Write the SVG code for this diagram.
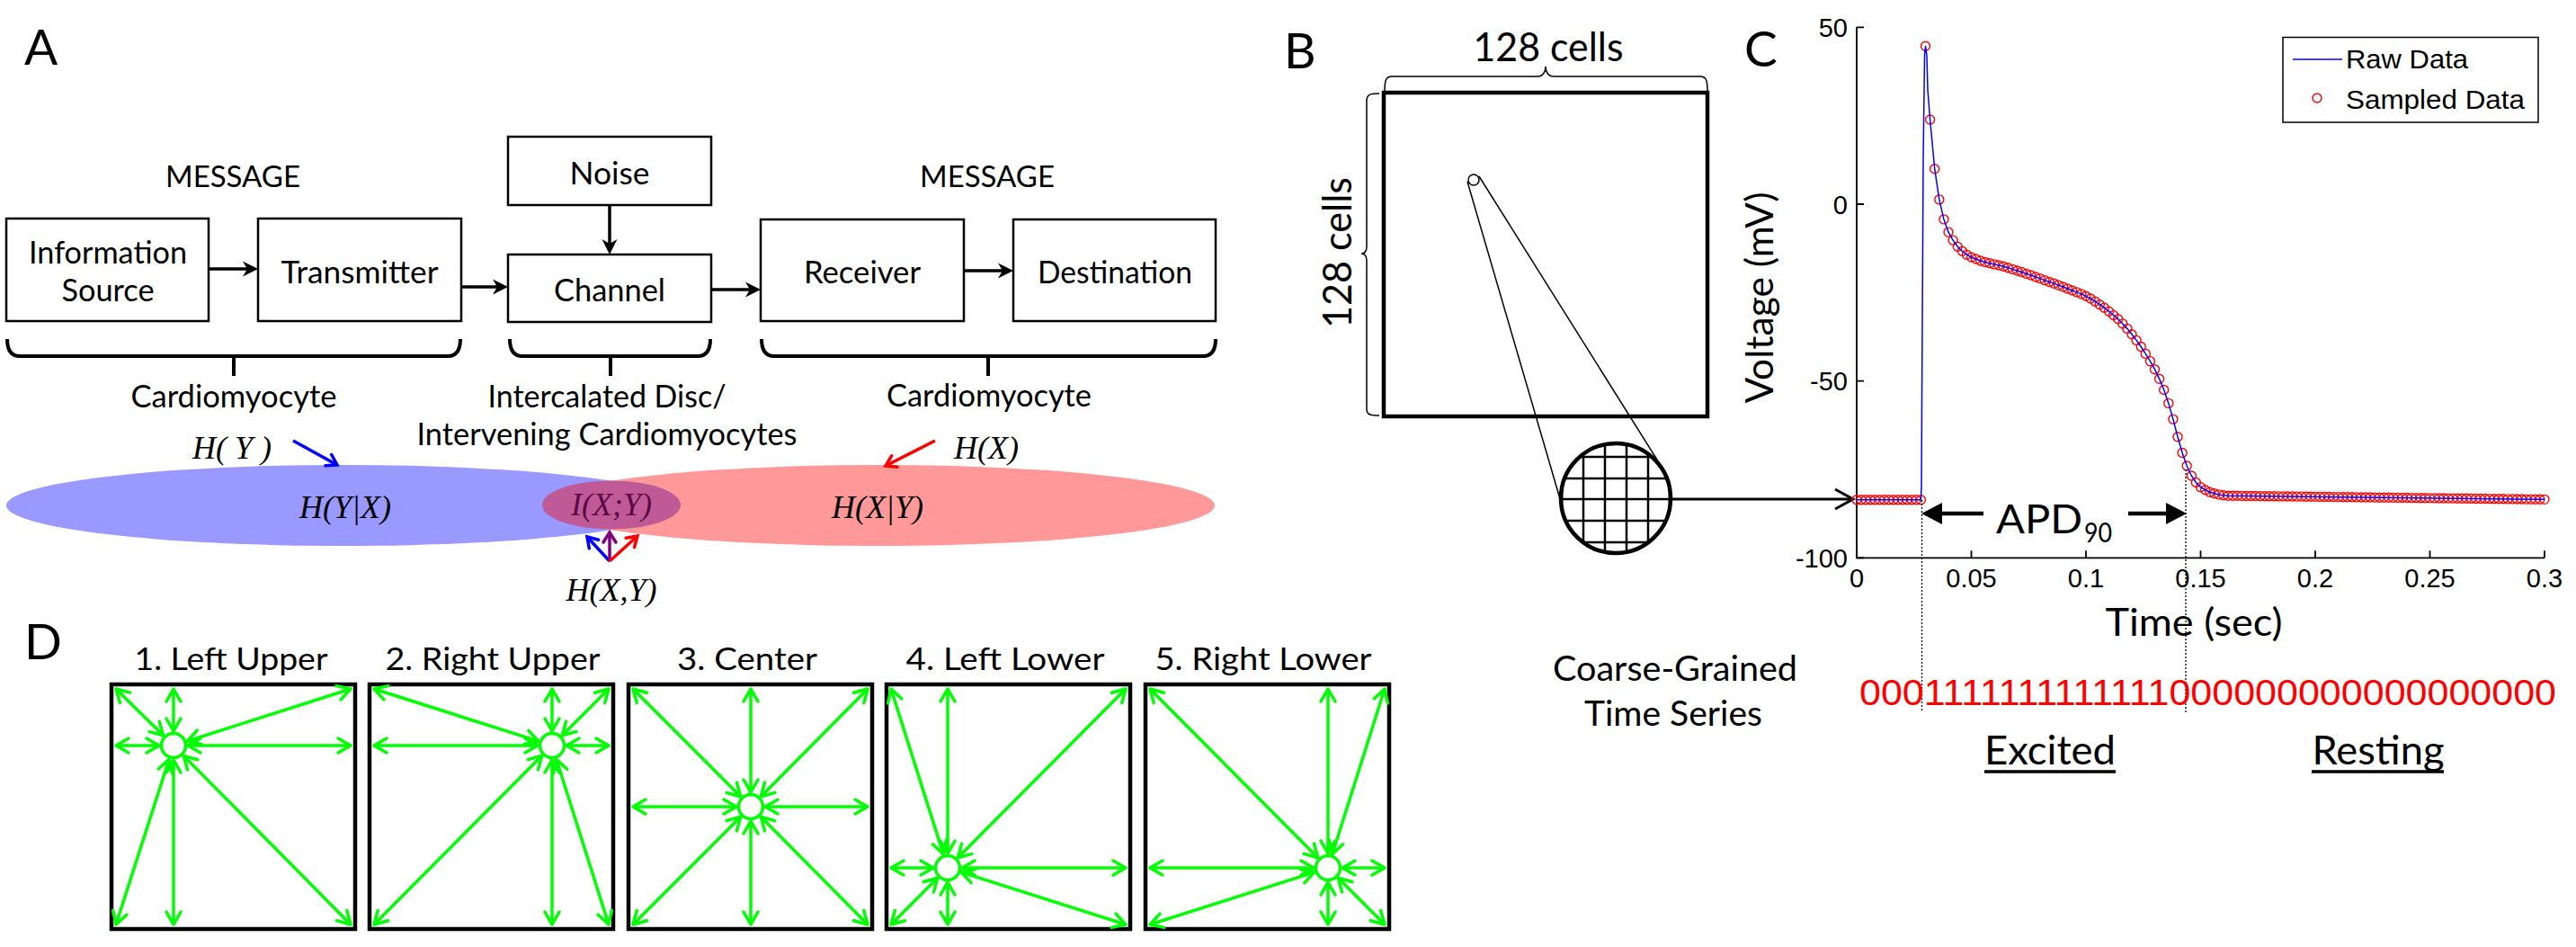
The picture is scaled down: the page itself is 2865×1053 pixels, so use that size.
<svg xmlns="http://www.w3.org/2000/svg" width="2865" height="1053" viewBox="0 0 2865 1053">
<style>
.gs{font-family:Lato,"Liberation Sans",sans-serif;fill:#000}
.ar{font-family:"Liberation Sans",Arial,sans-serif;fill:#000}
.mt{font-family:"Liberation Serif","Times New Roman",serif;font-style:italic;font-size:36px;fill:#000}
.box{fill:#fff;stroke:#000;stroke-width:2.5}
.conn{stroke:#000;stroke-width:3.5;fill:none;marker-end:url(#ah)}
.brace{fill:none;stroke:#000;stroke-width:4}
.ga{stroke:#00ff00;stroke-width:3.5;fill:none;marker-start:url(#gv);marker-end:url(#gv)}
.gn{fill:#fff;stroke:#00ff00;stroke-width:3.5}
.dbox{fill:none;stroke:#000;stroke-width:4.5}
.lbl{font-size:55px}
.a35{font-size:35px}
.tick{stroke:#000;stroke-width:1.8;fill:none}
.tl{font-size:29px}
.dot{stroke:#000;stroke-width:1.3;stroke-dasharray:2,2;fill:none}
</style>
<defs>
<marker id="ah" markerUnits="userSpaceOnUse" markerWidth="40" markerHeight="40" refX="0" refY="0" orient="auto" overflow="visible"><path d="M4,0 L-13,-8.5 L-8,0 L-13,8.5 z" fill="#000"/></marker>
<marker id="gv" markerUnits="userSpaceOnUse" markerWidth="40" markerHeight="40" refX="0" refY="0" orient="auto-start-reverse" overflow="visible"><path d="M-14,-8 L0,0 L-14,8" fill="none" stroke="#00ff00" stroke-width="3.5" stroke-linecap="round" stroke-linejoin="round"/></marker>
<marker id="bv" markerUnits="userSpaceOnUse" markerWidth="40" markerHeight="40" refX="0" refY="0" orient="auto" overflow="visible"><path d="M-11,-7 L0,0 L-11,7" fill="none" stroke="#0000ff" stroke-width="3.5" stroke-linecap="round"/></marker>
<marker id="rv" markerUnits="userSpaceOnUse" markerWidth="40" markerHeight="40" refX="0" refY="0" orient="auto" overflow="visible"><path d="M-11,-7 L0,0 L-11,7" fill="none" stroke="#ff0000" stroke-width="3.5" stroke-linecap="round"/></marker>
<marker id="pv" markerUnits="userSpaceOnUse" markerWidth="40" markerHeight="40" refX="0" refY="0" orient="auto" overflow="visible"><path d="M-11,-7 L0,0 L-11,7" fill="none" stroke="#800080" stroke-width="3.5" stroke-linecap="round"/></marker>
<marker id="kv" markerUnits="userSpaceOnUse" markerWidth="40" markerHeight="40" refX="0" refY="0" orient="auto" overflow="visible"><path d="M-20,-11 L0,0 L-20,11" fill="none" stroke="#000" stroke-width="3"/></marker>
<marker id="tri" markerUnits="userSpaceOnUse" markerWidth="40" markerHeight="40" refX="0" refY="0" orient="auto" overflow="visible"><path d="M5,0 L-18,-12 L-18,12 z" fill="#000"/></marker>
<marker id="o" markerUnits="userSpaceOnUse" markerWidth="20" markerHeight="20" refX="0" refY="0" overflow="visible"><circle cx="0" cy="0" r="5" fill="none" stroke="#ff0000" stroke-width="1.4"/></marker>
<clipPath id="mag"><circle cx="1797" cy="554" r="61"/></clipPath>
</defs>
<rect width="2865" height="1053" fill="#fff"/>

<!-- Panel A -->
<g id="panelA">
<text class="gs lbl" x="27" y="72">A</text>
<text class="gs" font-size="33" x="259" y="208" text-anchor="middle" textLength="150" lengthAdjust="spacingAndGlyphs">MESSAGE</text>
<text class="gs" font-size="33" x="1098" y="208" text-anchor="middle" textLength="150" lengthAdjust="spacingAndGlyphs">MESSAGE</text>
<g id="node-source"><rect class="box" x="7" y="243" width="225" height="114"/>
<text class="gs a35" x="120" y="293" text-anchor="middle" textLength="176" lengthAdjust="spacingAndGlyphs">Information</text>
<text class="gs a35" x="120" y="335" text-anchor="middle" textLength="103" lengthAdjust="spacingAndGlyphs">Source</text></g>
<g id="node-transmitter"><rect class="box" x="287" y="243" width="226" height="114"/>
<text class="gs a35" x="400" y="315" text-anchor="middle" textLength="175" lengthAdjust="spacingAndGlyphs">Transmitter</text></g>
<g id="node-noise"><rect class="box" x="565" y="152" width="226" height="76"/>
<text class="gs a35" x="678" y="205" text-anchor="middle" textLength="89" lengthAdjust="spacingAndGlyphs">Noise</text></g>
<g id="node-channel"><rect class="box" x="565" y="283" width="226" height="75"/>
<text class="gs a35" x="678" y="335" text-anchor="middle" textLength="124" lengthAdjust="spacingAndGlyphs">Channel</text></g>
<g id="node-receiver"><rect class="box" x="846" y="244" width="226" height="113"/>
<text class="gs a35" x="959" y="315" text-anchor="middle" textLength="130" lengthAdjust="spacingAndGlyphs">Receiver</text></g>
<g id="node-destination"><rect class="box" x="1127" y="244" width="225" height="113"/>
<text class="gs a35" x="1240" y="315" text-anchor="middle" textLength="172" lengthAdjust="spacingAndGlyphs">Destination</text></g>

<path class="brace" d="M8,377 Q8,396 22,396 H498 Q512,396 512,377 M260,396 V418"/>
<path class="brace" d="M567,377 Q567,396 581,396 H776 Q790,396 790,377 M679,396 V418"/>
<path class="brace" d="M847,377 Q847,396 861,396 H1338 Q1352,396 1352,377 M1099,396 V418"/>
<text class="gs a35" x="260" y="453" text-anchor="middle" textLength="229" lengthAdjust="spacingAndGlyphs">Cardiomyocyte</text>
<text class="gs a35" x="675" y="453" text-anchor="middle" textLength="265" lengthAdjust="spacingAndGlyphs">Intercalated Disc/</text>
<text class="gs a35" x="675" y="495" text-anchor="middle" textLength="423" lengthAdjust="spacingAndGlyphs">Intervening Cardiomyocytes</text>
<text class="gs a35" x="1100" y="452" text-anchor="middle" textLength="228" lengthAdjust="spacingAndGlyphs">Cardiomyocyte</text>

<g id="venn">
<ellipse cx="382" cy="562" rx="375" ry="45" fill="#9999ff"/>
<ellipse cx="977" cy="562" rx="374" ry="45" fill="#ff9999"/>
<ellipse cx="680" cy="561.5" rx="77" ry="27" fill="#bf5a97"/>
<text class="mt" x="384" y="576" text-anchor="middle">H(Y|X)</text>
<text class="mt" x="680" y="573" text-anchor="middle" fill="#5a0a44" style="fill:#5a0a44">I(X;Y)</text>
<text class="mt" x="976" y="576" text-anchor="middle">H(X|Y)</text>
<text class="mt" x="214" y="510">H( Y )</text>
<text class="mt" x="1061" y="510">H(X)</text>
<text class="mt" x="680" y="668" text-anchor="middle">H(X,Y)</text>
</g>
</g>

<g id="connectors">
<line class="conn" x1="232" y1="299" x2="283" y2="299"/>
<line class="conn" x1="513" y1="319" x2="561" y2="319"/>
<line class="conn" x1="678" y1="228" x2="678" y2="279"/>
<line class="conn" x1="791" y1="322" x2="842" y2="322"/>
<line class="conn" x1="1072" y1="301" x2="1123" y2="301"/>
<line x1="326" y1="490" x2="375" y2="517" stroke="#0000ff" stroke-width="3.5" marker-end="url(#bv)"/>
<line x1="1040" y1="490" x2="985" y2="518" stroke="#ff0000" stroke-width="3.5" marker-end="url(#rv)"/>
<line x1="678" y1="624" x2="653" y2="597" stroke="#0000ff" stroke-width="3.5" marker-end="url(#bv)"/>
<line x1="678" y1="624" x2="678" y2="592" stroke="#800080" stroke-width="3.5" marker-end="url(#pv)"/>
<line x1="678" y1="624" x2="709" y2="596" stroke="#ff0000" stroke-width="3.5" marker-end="url(#rv)"/>
<line x1="1797" y1="555" x2="2061" y2="555" stroke="#000" stroke-width="3" marker-end="url(#kv)"/>
</g>

<!-- Panel B -->
<g id="panelB">
<text class="gs lbl" x="1428" y="76">B</text>
<text class="gs" font-size="44" x="1722" y="68" text-anchor="middle" textLength="167" lengthAdjust="spacingAndGlyphs">128 cells</text>
<text class="gs" font-size="44" transform="translate(1503,281) rotate(-90)" text-anchor="middle" textLength="168" lengthAdjust="spacingAndGlyphs">128 cells</text>
<path d="M1540,102 C1540,90 1541,85 1548,85 H1710 C1716,85 1719,80 1719,74 C1719,80 1722,85 1728,85 H1891 C1898,85 1899,90 1899,102" fill="none" stroke="#000" stroke-width="1.5"/>
<path d="M1534,104 C1524,104 1520,105 1520,112 V274 C1520,279 1518,282 1514,282 C1518,282 1520,285 1520,290 V455 C1520,461 1524,462 1534,462" fill="none" stroke="#000" stroke-width="1.5"/>
<g id="node-grid"><rect x="1539" y="103" width="360" height="360" fill="none" stroke="#000" stroke-width="4.5"/></g>
<line x1="1632" y1="202" x2="1736" y2="558" stroke="#000" stroke-width="1.5"/>
<line x1="1645" y1="196" x2="1846" y2="516" stroke="#000" stroke-width="1.5"/>
<circle cx="1639" cy="200" r="6" fill="#fff" stroke="#000" stroke-width="1.5"/>
<g id="node-magnifier">
<circle cx="1797" cy="554" r="61" fill="#fff"/>
<g clip-path="url(#mag)" stroke="#000" stroke-width="2.5">
<path d="M1737,480 V630 M1761,480 V630 M1785,480 V630 M1809,480 V630 M1833,480 V630 M1857,480 V630 M1730,485 H1870 M1730,508 H1870 M1730,532 H1870 M1730,555 H1870 M1730,579 H1870 M1730,603 H1870"/>
</g>
<circle cx="1797" cy="554" r="61" fill="none" stroke="#000" stroke-width="4.5"/>
</g>
</g>

<!-- Panel C -->
<g id="panelC">
<text class="gs lbl" x="1940" y="74">C</text>
<path class="tick" d="M2065,30 V620.3 H2830"/>
<path class="tick" d="M2065,30.3 h8 M2065,227 h8 M2065,423.7 h8 M2065,620.3 h8 M2065,620.3 v-8 M2192.5,620.3 v-8 M2320,620.3 v-8 M2447.5,620.3 v-8 M2575,620.3 v-8 M2702.5,620.3 v-8 M2830,620.3 v-8"/>
<g class="ar tl" text-anchor="end">
<text x="2055" y="41">50</text>
<text x="2055" y="238">0</text>
<text x="2055" y="434">-50</text>
<text x="2055" y="631">-100</text>
</g>
<g class="ar tl" text-anchor="middle">
<text x="2065" y="653">0</text>
<text x="2192.5" y="653">0.05</text>
<text x="2320" y="653">0.1</text>
<text x="2447.5" y="653">0.15</text>
<text x="2575" y="653">0.2</text>
<text x="2702.5" y="653">0.25</text>
<text x="2830" y="653">0.3</text>
</g>
<text class="gs" font-size="42" transform="translate(1972,331) rotate(-90)" text-anchor="middle" textLength="235" lengthAdjust="spacingAndGlyphs">Voltage (mV)</text>
<text class="gs" font-size="42" x="2440" y="707" text-anchor="middle" textLength="197" lengthAdjust="spacingAndGlyphs">Time (sec)</text>

<path fill="none" stroke="none" marker-start="url(#o)" marker-mid="url(#o)" marker-end="url(#o)" d="M2065,555.8 l5.1,0 l5.1,0 l5.1,0 l5.1,0 l5.1,0 l5.1,0 l5.1,0 l5.1,0 l5.1,0 l5.1,0 l5.1,0 l5.1,0 l5.1,0 l5.1,0 l5.1,-504.6 l5.1,81.8 l5.1,54.7 l5.1,34.2 l5.1,22 l5.1,14.2 l5.1,9 l5.1,7.1 l5.1,5.1 l5.1,3.9 l5.1,2.8 l5.1,2 l5.1,2 l5.1,1.5 l5.1,1.2 l5.1,1.2 l5.1,1.1 l5.1,1.2 l5.1,1.6 l5.1,1.6 l5.1,1.6 l5.1,1.5 l5.1,2 l5.1,1.5 l5.1,2 l5.1,1.6 l5.1,2 l5.1,1.9 l5.1,1.6 l5.1,2 l5.1,1.9 l5.1,2 l5.1,2 l5.1,1.9 l5.1,2 l5.1,2.4 l5.1,2.7 l5.1,3.2 l5.1,3.5 l5.1,3.5 l5.1,4 l5.1,4.3 l5.1,4.3 l5.1,5.1 l5.1,5.5 l5.1,6.3 l5.1,6.7 l5.1,7.1 l5.1,7.9 l5.1,8.2 l5.1,9.1 l5.1,10.6 l5.1,12.2 l5.1,14.9 l5.1,17.7 l5.1,19.7 l5.1,17.7 l5.1,14.5 l5.1,11 l5.1,7.5 l5.1,5.1 l5.1,3.2 l5.1,2.4 l5.1,1.5 l5.1,1.2 l5.1,.8 l5.1,.5 l5.1,.06 l5.1,.06 l5.1,.06 l5.1,.06 l5.1,.06 l5.1,.06 l5.1,.06 l5.1,.06 l5.1,.06 l5.1,.06 l5.1,.06 l5.1,.06 l5.1,.06 l5.1,.06 l5.1,.06 l5.1,.06 l5.1,.06 l5.1,.06 l5.1,.06 l5.1,.06 l5.1,.06 l5.1,.06 l5.1,.06 l5.1,.06 l5.1,.06 l5.1,.06 l5.1,.06 l5.1,.06 l5.1,.06 l5.1,.06 l5.1,.06 l5.1,.06 l5.1,.06 l5.1,.06 l5.1,.06 l5.1,.06 l5.1,.06 l5.1,.06 l5.1,.06 l5.1,.06 l5.1,.06 l5.1,.06 l5.1,.06 l5.1,.06 l5.1,.06 l5.1,.06 l5.1,.06 l5.1,.06 l5.1,.06 l5.1,.06 l5.1,.06 l5.1,.06 l5.1,.06 l5.1,.06 l5.1,.06 l5.1,.06 l5.1,.06 l5.1,.06 l5.1,.06 l5.1,.06 l5.1,.06 l5.1,.06 l5.1,.06 l5.1,.06 l5.1,.06 l5.1,.06 l5.1,.06 l5.1,.06 l5.1,.06"/>
<path fill="none" stroke="#0000ff" stroke-width="1.5" d="M2065,555.8 H2136.4 L2137,540 L2137.6,428 L2139,176 L2140.5,62 L2141.5,51.2 L2143,62 L2144,100 L2146.6,133 l5.1,54.7 l5.1,34.2 l5.1,22 l5.1,14.2 l5.1,9 l5.1,7.1 l5.1,5.1 l5.1,3.9 l5.1,2.8 l5.1,2 l5.1,2 l5.1,1.5 l5.1,1.2 l5.1,1.2 l5.1,1.1 l5.1,1.2 l5.1,1.6 l5.1,1.6 l5.1,1.6 l5.1,1.5 l5.1,2 l5.1,1.5 l5.1,2 l5.1,1.6 l5.1,2 l5.1,1.9 l5.1,1.6 l5.1,2 l5.1,1.9 l5.1,2 l5.1,2 l5.1,1.9 l5.1,2 l5.1,2.4 l5.1,2.7 l5.1,3.2 l5.1,3.5 l5.1,3.5 l5.1,4 l5.1,4.3 l5.1,4.3 l5.1,5.1 l5.1,5.5 l5.1,6.3 l5.1,6.7 l5.1,7.1 l5.1,7.9 l5.1,8.2 l5.1,9.1 l5.1,10.6 l5.1,12.2 l5.1,14.9 l5.1,17.7 l5.1,19.7 l5.1,17.7 l5.1,14.5 l5.1,11 l5.1,7.5 l5.1,5.1 l5.1,3.2 l5.1,2.4 l5.1,1.5 l5.1,1.2 l5.1,.8 l5.1,.5 L2830,555.3"/>

<g id="legend">
<rect x="2539" y="41.5" width="284" height="94.5" fill="#fff" stroke="#000" stroke-width="1.5"/>
<line x1="2550" y1="66" x2="2605" y2="66" stroke="#0000ff" stroke-width="1.5"/>
<circle cx="2577" cy="109" r="5" fill="none" stroke="#ff0000" stroke-width="1.4"/>
<text class="ar" font-size="30" x="2609" y="76" textLength="136" lengthAdjust="spacingAndGlyphs">Raw Data</text>
<text class="ar" font-size="30" x="2609" y="121" textLength="199" lengthAdjust="spacingAndGlyphs">Sampled Data</text>
</g>

<path class="dot" d="M2137.5,556 V792 M2431,522 V792"/>
<line x1="2206" y1="571" x2="2142" y2="571" stroke="#000" stroke-width="4.5" marker-end="url(#tri)"/>
<line x1="2367" y1="571" x2="2427" y2="571" stroke="#000" stroke-width="4.5" marker-end="url(#tri)"/>
<text class="gs" font-size="44" x="2220" y="593" textLength="96" lengthAdjust="spacingAndGlyphs">APD</text>
<text class="gs" font-size="30" x="2318" y="603" textLength="31" lengthAdjust="spacingAndGlyphs">90</text>

<text class="gs" font-size="38" x="1863" y="757" text-anchor="middle" textLength="272" lengthAdjust="spacingAndGlyphs">Coarse-Grained</text>
<text class="gs" font-size="38" x="1861" y="807" text-anchor="middle" textLength="198" lengthAdjust="spacingAndGlyphs">Time Series</text>
<text class="ar" font-size="41" x="2068" y="784" fill="#ff0000" style="fill:#ff0000" textLength="775" lengthAdjust="spacingAndGlyphs">0001111111111111000000000000000000</text>
<text class="gs" font-size="44" x="2280" y="850" text-anchor="middle" textLength="146" lengthAdjust="spacingAndGlyphs">Excited</text>
<text class="gs" font-size="44" x="2645" y="850" text-anchor="middle" textLength="147" lengthAdjust="spacingAndGlyphs">Resting</text>
<path d="M2207,858 H2353 M2571,858 H2718" stroke="#000" stroke-width="3.5"/>
</g>

<!-- Panel D -->
<g id="panelD">
<text class="gs lbl" x="27" y="733">D</text>
<g class="gs" font-size="35" text-anchor="middle">
<text x="257" y="745" textLength="215" lengthAdjust="spacingAndGlyphs">1. Left Upper</text>
<text x="548" y="745" textLength="239" lengthAdjust="spacingAndGlyphs">2. Right Upper</text>
<text x="831" y="745" textLength="156" lengthAdjust="spacingAndGlyphs">3. Center</text>
<text x="1118" y="745" textLength="221" lengthAdjust="spacingAndGlyphs">4. Left Lower</text>
<text x="1405" y="745" textLength="241" lengthAdjust="spacingAndGlyphs">5. Right Lower</text>
</g>

<g id="node-d1">
<rect class="dbox" x="124" y="761" width="271" height="272"/>
<line class="ga" x1="181.6" y1="817.8" x2="129" y2="766"/>
<line class="ga" x1="193" y1="813" x2="193" y2="766"/>
<line class="ga" x1="208.2" y1="824.1" x2="390" y2="766"/>
<line class="ga" x1="177" y1="829" x2="129" y2="829"/>
<line class="ga" x1="209" y1="829" x2="390" y2="829"/>
<line class="ga" x1="188.1" y1="844.2" x2="129" y2="1028"/>
<line class="ga" x1="193" y1="845" x2="193" y2="1028"/>
<line class="ga" x1="204.3" y1="840.4" x2="390" y2="1028"/>
<circle class="gn" cx="193" cy="829" r="13.5"/>
</g>
<g id="node-d2">
<rect class="dbox" x="411" y="761" width="271" height="272"/>
<line class="ga" x1="598.8" y1="824.2" x2="416" y2="766"/>
<line class="ga" x1="614" y1="813" x2="614" y2="766"/>
<line class="ga" x1="625.3" y1="817.7" x2="677" y2="766"/>
<line class="ga" x1="598" y1="829" x2="416" y2="829"/>
<line class="ga" x1="630" y1="829" x2="677" y2="829"/>
<line class="ga" x1="602.7" y1="840.3" x2="416" y2="1028"/>
<line class="ga" x1="614" y1="845" x2="614" y2="1028"/>
<line class="ga" x1="618.8" y1="844.3" x2="677" y2="1028"/>
<circle class="gn" cx="614" cy="829" r="13.5"/>
</g>
<g id="node-d3">
<rect class="dbox" x="699" y="761" width="271" height="272"/>
<line class="ga" x1="823.7" y1="885.7" x2="704" y2="766"/>
<line class="ga" x1="835" y1="881" x2="835" y2="766"/>
<line class="ga" x1="846.3" y1="885.7" x2="965" y2="766"/>
<line class="ga" x1="819" y1="897" x2="704" y2="897"/>
<line class="ga" x1="851" y1="897" x2="965" y2="897"/>
<line class="ga" x1="823.7" y1="908.3" x2="704" y2="1028"/>
<line class="ga" x1="835" y1="913" x2="835" y2="1028"/>
<line class="ga" x1="846.3" y1="908.3" x2="965" y2="1028"/>
<circle class="gn" cx="835" cy="897" r="13.5"/>
</g>
<g id="node-d4">
<rect class="dbox" x="986" y="761" width="271" height="272"/>
<line class="ga" x1="1049.2" y1="949.7" x2="991" y2="766"/>
<line class="ga" x1="1054" y1="949" x2="1054" y2="766"/>
<line class="ga" x1="1065.3" y1="953.7" x2="1252" y2="766"/>
<line class="ga" x1="1038" y1="965" x2="991" y2="965"/>
<line class="ga" x1="1070" y1="965" x2="1252" y2="965"/>
<line class="ga" x1="1042.7" y1="976.3" x2="991" y2="1028"/>
<line class="ga" x1="1054" y1="981" x2="1054" y2="1028"/>
<line class="ga" x1="1069.2" y1="969.8" x2="1252" y2="1028"/>
<circle class="gn" cx="1054" cy="965" r="13.5"/>
</g>
<g id="node-d5">
<rect class="dbox" x="1274" y="761" width="271" height="272"/>
<line class="ga" x1="1465.7" y1="953.7" x2="1279" y2="766"/>
<line class="ga" x1="1477" y1="949" x2="1477" y2="766"/>
<line class="ga" x1="1481.8" y1="949.7" x2="1540" y2="766"/>
<line class="ga" x1="1461" y1="965" x2="1279" y2="965"/>
<line class="ga" x1="1493" y1="965" x2="1540" y2="965"/>
<line class="ga" x1="1461.8" y1="969.8" x2="1279" y2="1028"/>
<line class="ga" x1="1477" y1="981" x2="1477" y2="1028"/>
<line class="ga" x1="1488.3" y1="976.3" x2="1540" y2="1028"/>
<circle class="gn" cx="1477" cy="965" r="13.5"/>
</g>
</g>
</svg>
